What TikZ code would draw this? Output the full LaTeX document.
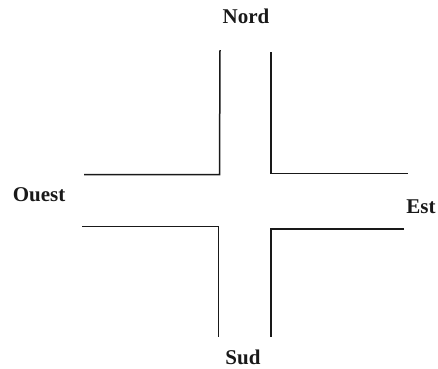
\documentclass[tikz,border=0pt]{standalone}
\usepackage{fontspec}
\setmainfont{Liberation Serif}
\begin{document}
\begin{tikzpicture}[x=1pt,y=-1pt,
  wall/.style={draw=black!90,line width=1.5pt},
  dirlabel/.style={font=\fontsize{21}{25}\selectfont\bfseries,anchor=base,inner sep=0pt,text=black!90}]
\useasboundingbox (0,0) rectangle (438,368);
% corners of the crossroad
\draw[wall] (84,174.7) -- (219.5,174.7) -- (220,50);
\draw[wall] (271,52) -- (271,173.3) -- (408,173.3);
\draw[wall] (82,226.5) -- (218.5,226.5) -- (218.5,337);
\draw[wall] (404,228.8) -- (271,228.8) -- (271,337);
% labels
\node[dirlabel] (nord) at (246,23) {Nord};
\node[dirlabel] (ouest) at (39,201.7) {Ouest};
\node[dirlabel] (est) at (421,213) {Est};
\node[dirlabel] (sud) at (243,364) {Sud};
\end{tikzpicture}
\end{document}
